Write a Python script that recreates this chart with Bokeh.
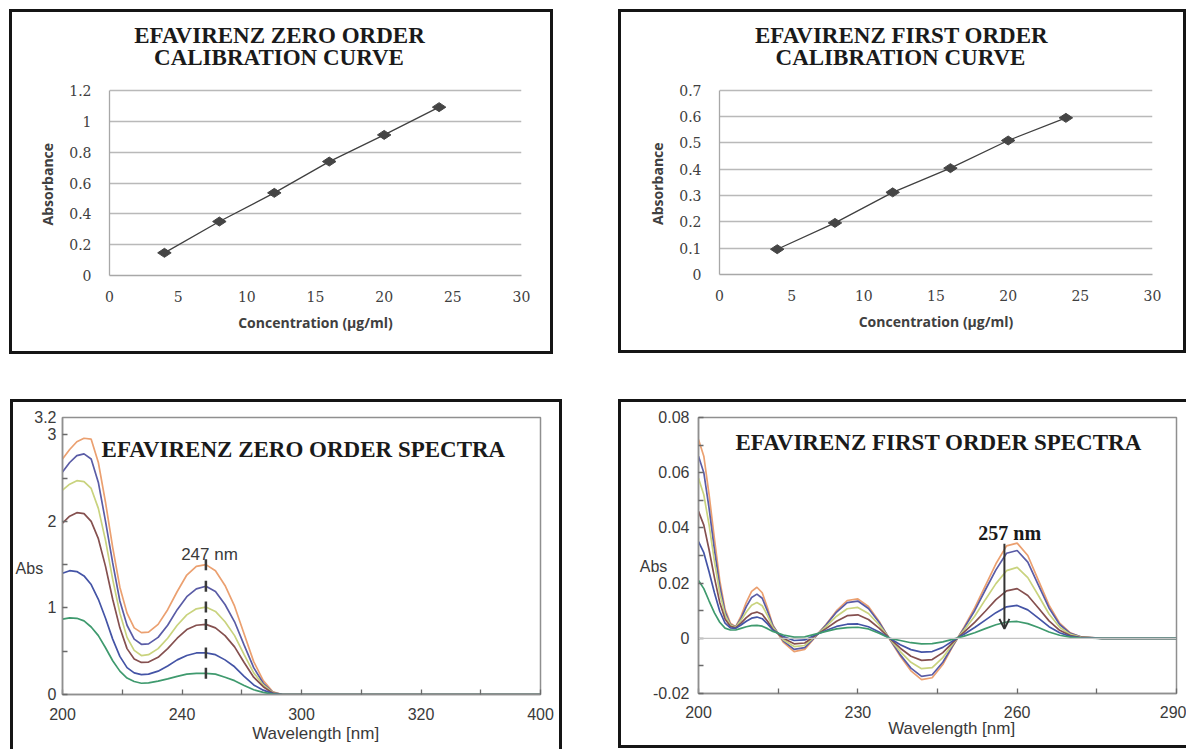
import numpy as np
from bokeh.plotting import figure
from bokeh.layouts import row, column
from bokeh.models import Range1d, FixedTicker, Label, Span, Arrow, OpenHead, Spacer
from bokeh.embed import file_html
from bokeh.resources import INLINE

# ---------------- data ----------------
conc = [4, 8, 12, 16, 20, 24]
abs_zero_order = [0.147, 0.35, 0.536, 0.739, 0.912, 1.092]
abs_first_order = [0.096, 0.196, 0.312, 0.404, 0.509, 0.595]

cal_xticks = [0, 5, 10, 15, 20, 25, 30]
zero_cal_yticks = [0, 0.2, 0.4, 0.6, 0.8, 1, 1.2]
zero_cal_ylabels = ["0", "0.2", "0.4", "0.6", "0.8", "1", "1.2"]
first_cal_yticks = [0, 0.1, 0.2, 0.3, 0.4, 0.5, 0.6, 0.7]
first_cal_ylabels = ["0", "0.1", "0.2", "0.3", "0.4", "0.5", "0.6", "0.7"]

# zero order spectra (x axis as printed: ticks labelled 200, 240, 300, 320, 400)
zero_wl = [200, 203, 206, 209, 212, 215, 218, 221, 224, 227, 230, 233, 236, 240,
           244, 248, 252, 256, 260, 264, 268, 272, 276, 280, 284, 288, 292, 296,
           300, 350, 400]
zero_s1 = [2.72, 2.83, 2.92, 2.96, 2.95, 2.68, 2.22, 1.70, 1.24, 0.94, 0.77, 0.715,
           0.72, 0.81, 0.98, 1.19, 1.38, 1.48, 1.50, 1.43, 1.26, 1.02, 0.70, 0.38,
           0.16, 0.03, 0.0, 0.0, 0.0, 0.0, 0.0]
zero_s2 = [2.57, 2.68, 2.76, 2.78, 2.72, 2.45, 2.00, 1.52, 1.08, 0.80, 0.64, 0.58,
           0.585, 0.66, 0.80, 0.98, 1.13, 1.22, 1.25, 1.19, 1.04, 0.84, 0.57, 0.31,
           0.13, 0.025, 0.0, 0.0, 0.0, 0.0, 0.0]
zero_s3 = [2.36, 2.43, 2.47, 2.46, 2.38, 2.15, 1.78, 1.33, 0.94, 0.66, 0.51, 0.45,
           0.46, 0.53, 0.65, 0.80, 0.92, 0.99, 1.01, 0.96, 0.84, 0.68, 0.46, 0.25,
           0.11, 0.02, 0.0, 0.0, 0.0, 0.0, 0.0]
zero_s4 = [1.98, 2.06, 2.10, 2.09, 2.00, 1.80, 1.48, 1.10, 0.77, 0.53, 0.41, 0.37,
           0.375, 0.43, 0.53, 0.65, 0.75, 0.80, 0.81, 0.77, 0.68, 0.55, 0.37, 0.20,
           0.09, 0.015, 0.0, 0.0, 0.0, 0.0, 0.0]
zero_s5 = [1.40, 1.43, 1.42, 1.37, 1.27, 1.10, 0.88, 0.64, 0.44, 0.31, 0.25, 0.23,
           0.235, 0.27, 0.33, 0.40, 0.45, 0.48, 0.48, 0.46, 0.40, 0.32, 0.21, 0.11,
           0.05, 0.01, 0.0, 0.0, 0.0, 0.0, 0.0]
zero_s6 = [0.87, 0.885, 0.88, 0.85, 0.78, 0.68, 0.54, 0.39, 0.27, 0.19, 0.15, 0.13,
           0.135, 0.155, 0.18, 0.21, 0.235, 0.245, 0.245, 0.235, 0.20, 0.16, 0.105,
           0.055, 0.025, 0.005, 0.0, 0.0, 0.0, 0.0, 0.0]
zero_peak_wl = 260
zero_xticks = [200, 250, 300, 350, 400]
zero_xlabels = ["200", "240", "300", "320", "400"]
zero_xminor = [225, 275, 325, 375]
zero_yticks = [0, 1, 1.46, 2, 3, 3.2]
zero_ylabels = ["0", "1", "Abs\u00a0\u00a0\u00a0", "2", "3", "3.2"]
zero_yminor = [0, 0.5, 1, 1.5, 2, 2.5, 3]

# first order spectra
first_wl = [200, 201, 202, 203, 204, 205, 206, 207, 208, 209, 210, 211, 212, 213,
            214, 216, 218, 220, 222, 224, 226, 228, 230, 232, 234, 236, 238, 240,
            242, 244, 246, 248, 250, 252, 254, 256, 258, 260, 262, 264, 266, 268,
            270, 272, 276, 280, 285, 290]
first_s1 = [.072, .066, .052, .036, .021, .0105, .0055, .0042, .008, .013, .017, .0185,
            .0165, .011, .0048, -.0015, -.0048, -.004, .0005, .005, .010, .0137, .0143,
            .0115, .0062, -.0004, -.0065, -.0118, -.0150, -.0143, -.0095, -.0025, .004,
            .011, .019, .027, .0335, .0345, .030, .021, .012, .0055, .002, .0005, 0, 0, 0, 0]
first_s2 = [.066, .060, .047, .032, .019, .0095, .005, .0041, .0072, .0115, .0148, .016,
            .0145, .0098, .0045, -.001, -.004, -.0034, .0006, .0048, .0095, .0129, .0135,
            .0108, .0058, -.0003, -.006, -.0108, -.0138, -.0132, -.0087, -.0023, .0037,
            .010, .0175, .0248, .0308, .0318, .0276, .0193, .011, .005, .0018, .0005, 0, 0, 0, 0]
first_s3 = [.058, .052, .041, .028, .0165, .0085, .0048, .004, .0065, .0095, .012, .013,
            .0118, .0082, .004, -.0006, -.003, -.0026, .0008, .0042, .008, .0107, .0112,
            .009, .0049, -.0002, -.0048, -.0087, -.011, -.0106, -.007, -.0018, .003,
            .008, .014, .0198, .0245, .0257, .022, .0155, .0088, .004, .0014, .0004, 0, 0, 0, 0]
first_s4 = [.046, .041, .032, .022, .013, .007, .0043, .0038, .0055, .0075, .009, .0095,
            .0087, .0062, .0032, 0, -.002, -.0017, .001, .0035, .0062, .0082, .0085,
            .0068, .0037, 0, -.0036, -.0065, -.008, -.0077, -.0052, -.0013, .0022,
            .0058, .0098, .014, .0172, .018, .0155, .011, .0063, .0029, .001, .0003, 0, 0, 0, 0]
first_s5 = [.035, .031, .024, .0165, .0098, .0055, .0038, .0036, .0048, .0062, .0073, .0077,
            .0071, .0052, .003, .0006, -.0008, -.0006, .0012, .0028, .0043, .0051, .0052,
            .0042, .0023, 0, -.0023, -.0041, -.005, -.0048, -.0033, -.0008, .0015,
            .0039, .0066, .0093, .0114, .0119, .0103, .0073, .0042, .002, .0007, .0002, 0, 0, 0, 0]
first_s6 = [.021, .018, .0135, .0092, .0058, .0037, .003, .003, .0036, .0042, .0046, .0047,
            .0044, .0035, .0025, .0012, .0004, .0005, .0015, .0025, .0034, .0039, .004,
            .0034, .0018, 0, -.0008, -.0016, -.002, -.0019, -.0013, -.0003, .0008,
            .002, .0035, .0049, .0059, .0061, .0053, .0039, .0023, .0011, .0004, .0001, 0, 0, 0, 0]
first_xticks = [200, 230, 260, 290]
first_xlabels = ["200", "230", "260", "290"]
first_xminor = [215, 245, 275]
first_yticks = [-0.02, 0, 0.02, 0.026, 0.04, 0.06, 0.08]
first_ylabels = ["-0.02", "0", "0.02", "Abs\u00a0\u00a0\u00a0\u00a0\u00a0", "0.04", "0.06", "0.08"]
first_yminor = [-0.02, -0.01, 0, 0.01, 0.02, 0.03, 0.04, 0.05, 0.06, 0.07, 0.08]
first_arrow = [257.6, 0.0343, 0.0034]   # x, y_start, y_end

spec_colors = ["#eba070", "#5a5ca6", "#c9d37e", "#85504f", "#4454a6", "#3f9a6e"]

NB = "\u00a0"
zero_cal_title = ["EFAVIRENZ ZERO ORDER", "CALIBRATION CURVE"]
first_cal_title = ["EFAVIRENZ FIRST ORDER", "CALIBRATION CURVE"]
# title anchor positions (x, y) in each chart's data units: line 1, line 2
zero_cal_title_pos = [(12.38, 1.557), (12.34, 1.414)]
first_cal_title_pos = [(12.61, 0.908), (12.54, 0.825)]

SERIF = "Liberation Serif"
SANS = "Liberation Sans"
TITLE_SIZE = "23px"
INK = "#151515"
SIDE = {"l": "inset 3px 0 0 0 " + INK, "r": "inset -3px 0 0 0 " + INK,
        "t": "inset 0 3px 0 0 " + INK, "b": "inset 0 -3px 0 0 " + INK}


def box_style(sides):
    return {"box-shadow": ", ".join(SIDE[s] for s in sides)}


def calib_plot(width, height, mbl, mbr, mbb, ymax, ytop, yticks, ylabels, yvals,
               title_lines, title_pos):
    # the frame reaches up into the title area; the y axis itself is bounded at ymax
    p = figure(width=width, height=height, output_backend="svg", toolbar_location=None,
               title=None, x_range=Range1d(0, 30), y_range=Range1d(0, ytop),
               min_border_left=mbl, min_border_right=mbr,
               min_border_top=7, min_border_bottom=mbb,
               styles=box_style("lrtb"))
    p.outline_line_color = None
    p.background_fill_color = None
    p.border_fill_color = None
    p.xgrid.visible = False
    p.xaxis.ticker = FixedTicker(ticks=cal_xticks)
    p.yaxis.ticker = FixedTicker(ticks=yticks)
    p.yaxis.bounds = (0, ymax)
    p.yaxis.major_label_overrides = dict(zip(yticks, ylabels))
    p.ygrid.grid_line_color = "#b9b9b9"
    p.ygrid.grid_line_width = 1.3
    for ax in (p.xaxis[0], p.yaxis[0]):
        ax.axis_line_color = "#a8a8a8"
        ax.axis_line_width = 1.3
        ax.major_tick_in = 0
        ax.major_tick_out = 0
        ax.minor_tick_in = 0
        ax.minor_tick_out = 0
        ax.major_label_text_font = "DejaVu Serif"
        ax.major_label_text_font_size = "14px"
        ax.major_label_text_color = "#404040"
        ax.axis_label_text_font = "Open Sans"
        ax.axis_label_text_font_style = "bold"
        ax.axis_label_text_font_size = "14px"
        ax.axis_label_text_color = "#404040"
    p.xaxis.axis_label = "Concentration (µg/ml)"
    p.yaxis.axis_label = "Absorbance" + NB * 21
    p.xaxis.major_label_standoff = 15
    p.yaxis.major_label_standoff = 18
    p.xaxis.axis_label_standoff = 8
    p.yaxis.axis_label_standoff = 9
    p.line(conc, yvals, line_color="#404040", line_width=1.3)
    p.scatter(conc, yvals, marker="diamond", angle=np.pi / 2, size=13.5,
              fill_color="#454545", line_color="#454545")
    for txt, (tx, ty) in zip(title_lines, title_pos):
        p.add_layout(Label(x=tx, y=ty, text=txt, text_font=SERIF, text_font_style="bold",
                           text_font_size=TITLE_SIZE, text_color="#1a1a1a",
                           text_align="center", text_baseline="middle"))
    return p


def spec_plot(width, height, mbl, mbr, mbt, mbb, xr, yr, xt, xmin, xl, yt, ymin, yl,
              xlab_standoff, ylab_standoff, xlabel, xlabel_standoff, sides):
    p = figure(width=width, height=height, output_backend="svg", toolbar_location=None,
               x_range=Range1d(*xr), y_range=Range1d(*yr),
               min_border_left=mbl, min_border_right=mbr,
               min_border_top=mbt, min_border_bottom=mbb,
               styles=box_style(sides))
    p.outline_line_color = "#8f8f8f"
    p.outline_line_width = 1.5
    p.background_fill_color = None
    p.border_fill_color = None
    p.grid.visible = False
    p.xaxis.ticker = FixedTicker(ticks=xt, minor_ticks=xmin)
    p.yaxis.ticker = FixedTicker(ticks=yt, minor_ticks=ymin)
    p.xaxis.major_label_overrides = dict(zip(xt, xl))
    p.yaxis.major_label_overrides = dict(zip(yt, yl))
    for ax in (p.xaxis[0], p.yaxis[0]):
        ax.axis_line_color = "#8f8f8f"
        ax.axis_line_width = 1.5
        ax.major_tick_out = 0
        ax.minor_tick_in = 5
        ax.minor_tick_out = 0
        ax.major_tick_line_color = "#6a6a6a"
        ax.minor_tick_line_color = "#6a6a6a"
        ax.major_tick_line_width = 1.3
        ax.minor_tick_line_width = 1.3
        ax.major_label_text_font = SANS
        ax.major_label_text_font_size = "16px"
        ax.major_label_text_color = "#3a3a3a"
    p.xaxis.major_tick_in = 5
    p.yaxis.major_tick_in = 0
    p.xaxis.major_label_standoff = xlab_standoff
    p.yaxis.major_label_standoff = ylab_standoff
    p.xaxis.axis_label = xlabel
    p.xaxis.axis_label_standoff = xlabel_standoff
    p.xaxis.axis_label_text_font = SANS
    p.xaxis.axis_label_text_font_size = "17px"
    p.xaxis.axis_label_text_font_style = "normal"
    p.xaxis.axis_label_text_color = "#3a3a3a"
    return p


# ---------------- top left ----------------
p1 = calib_plot(544, 345, 100, 32, 79, 1.2, 1.68, zero_cal_yticks, zero_cal_ylabels,
                abs_zero_order, zero_cal_title, zero_cal_title_pos)

# ---------------- top right ----------------
p2 = calib_plot(568, 344, 101, 34, 78, 0.7, 0.98, first_cal_yticks, first_cal_ylabels,
                abs_first_order, first_cal_title, first_cal_title_pos)

# ---------------- bottom left ----------------
p3 = spec_plot(552, 350, 52, 22, 17, 50, (200, 400), (0, 3.2),
               zero_xticks, zero_xminor, zero_xlabels,
               zero_yticks, zero_yminor, zero_ylabels, 13, 6,
               NB * 6 + "Wavelength [nm]", 1, "lrt")
zero_series = [zero_s1, zero_s2, zero_s3, zero_s4, zero_s5, zero_s6]
for ys, c in zip(zero_series, spec_colors):
    p3.line(zero_wl, ys, line_color=c, line_width=1.7)
ipk = zero_wl.index(zero_peak_wl)
p3.scatter([zero_peak_wl] * len(zero_series), [s[ipk] for s in zero_series],
           marker="dash", angle=np.pi / 2, size=11, line_color="#3a3a3a", line_width=2.5)
p3.add_layout(Label(x=zero_peak_wl + 1.5, y=1.62, text="247 nm", text_font=SANS,
                    text_font_size="17px", text_color="#3a3a3a", text_align="center",
                    text_baseline="middle"))
p3.add_layout(Label(x=300.8, y=2.83, text="EFAVIRENZ ZERO ORDER SPECTRA", text_font=SERIF,
                    text_font_style="bold", text_font_size=TITLE_SIZE, text_color="#1a1a1a",
                    text_align="center", text_baseline="middle"))

# ---------------- bottom right ----------------
p4 = spec_plot(568, 349, 80, 10, 18, 55, (200, 290), (-0.02, 0.08),
               first_xticks, first_xminor, first_xlabels,
               first_yticks, first_yminor, first_ylabels, 12, 9,
               NB * 6 + "Wavelength [nm]", -2, "ltb")
p4.add_layout(Span(location=0, dimension="width", line_color="#c4c4c4", line_width=1.3))
first_series = [first_s1, first_s2, first_s3, first_s4, first_s5, first_s6]
for ys, c in zip(first_series, spec_colors):
    p4.line(first_wl, ys, line_color=c, line_width=1.7)
p4.add_layout(Arrow(end=OpenHead(size=10, line_color="#333333", line_width=2),
                    x_start=first_arrow[0], y_start=first_arrow[1],
                    x_end=first_arrow[0], y_end=first_arrow[2],
                    line_color="#333333", line_width=2))
p4.add_layout(Label(x=258.6, y=0.038, text="257 nm", text_font=SERIF,
                    text_font_style="bold", text_font_size="20px", text_color="#1a1a1a",
                    text_align="center", text_baseline="middle"))
p4.add_layout(Label(x=245.2, y=0.0709, text="EFAVIRENZ FIRST ORDER SPECTRA", text_font=SERIF,
                    text_font_style="bold", text_font_size=TITLE_SIZE, text_color="#1a1a1a",
                    text_align="center", text_baseline="middle"))

layout = column(
    Spacer(height=9),
    row(Spacer(width=9), p1, Spacer(width=65), p2),
    Spacer(height=45),
    row(Spacer(width=10), p3, Spacer(width=56), p4),
)
open("out.html", "w").write(file_html(layout, INLINE, title="Efavirenz"))
